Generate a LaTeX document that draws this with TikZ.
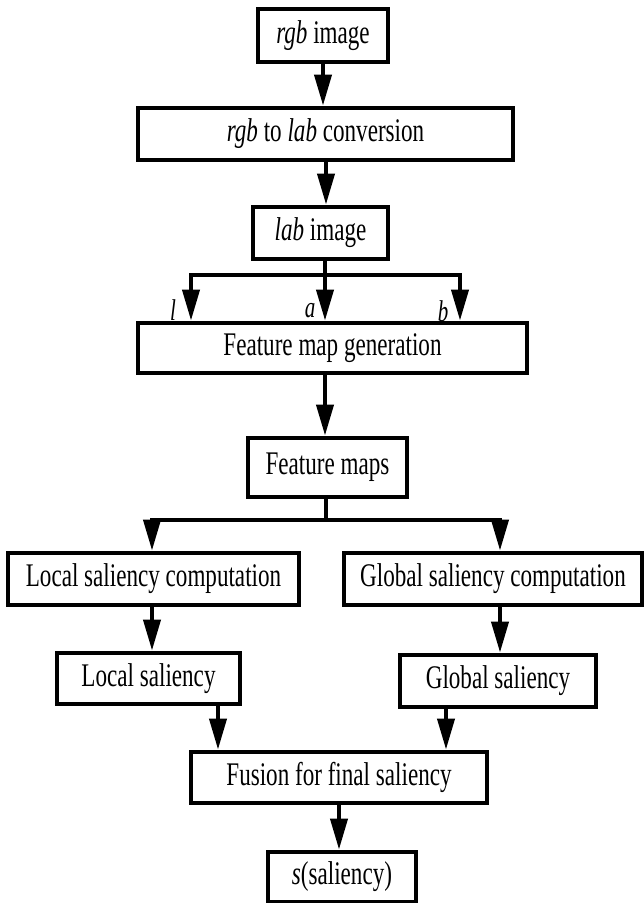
\documentclass[tikz,border=0pt]{standalone}
\usepackage{fontspec}
\setmainfont{Liberation Serif}[FakeStretch=0.70]
\usetikzlibrary{arrows.meta}
\begin{document}
\begin{tikzpicture}[x=1pt,y=-1pt,
  box/.style={draw, line width=4.8pt, inner sep=0pt, align=center,
    font=\fontsize{33}{40}\selectfont},
  ln/.style={line width=4pt, line cap=rect},
  arr/.style={line width=4pt, -{Triangle[width=17pt,length=31pt]}},
  lbl/.style={font=\fontsize{30}{36}\selectfont\itshape, inner sep=0pt}]
\useasboundingbox (0,0) rectangle (644,903);

% boxes
\node[box, minimum width=130pt, minimum height=53pt] (n1) at (323,35.5) {\textit{rgb} image};
\node[box, minimum width=375pt, minimum height=52pt] (n2) at (325.5,134) {\textit{rgb} to \textit{lab} conversion};
\node[box, minimum width=135pt, minimum height=52pt] (n3) at (320.5,233) {\textit{lab} image};
\node[box, minimum width=389pt, minimum height=50pt] (n4) at (332.5,348) {Feature map generation};
\node[box, minimum width=159pt, minimum height=59pt] (n5) at (327.5,467.5) {Feature maps};
\node[box, minimum width=291pt, minimum height=52pt] (n6) at (153.5,579) {Local saliency computation};
\node[box, minimum width=298pt, minimum height=52pt] (n7) at (493,579) {Global saliency computation};
\node[box, minimum width=183pt, minimum height=51pt] (n8) at (148.5,678.5) {Local saliency};
\node[box, minimum width=196pt, minimum height=52pt] (n9) at (498,681) {Global saliency};
\node[box, minimum width=296pt, minimum height=51pt] (n10) at (339,777.5) {Fusion for final saliency};
\node[box, minimum width=148pt, minimum height=50pt] (n11) at (342,877) {\textit{s}(saliency)};

% straight links
\coordinate (x12) at (323,0);
\coordinate (x23) at (326,0);
\coordinate (x45) at (325,0);
\coordinate (x68) at (152,0);
\coordinate (x79) at (500,0);
\coordinate (x810) at (218,0);
\coordinate (x910) at (446,0);
\coordinate (x1011) at (339,0);
\draw[arr] (x12 |- n1.south) -- (x12 |- n2.north);
\draw[arr] (x23 |- n2.south) -- (x23 |- n3.north);
\draw[arr] (x45 |- n4.south) -- (x45 |- n5.north);
\draw[arr] (x68 |- n6.south) -- (x68 |- n8.north);
\draw[arr] (x79 |- n7.south) -- (x79 |- n9.north);
\draw[arr] (x810 |- n8.south) -- (x810 |- n10.north);
\draw[arr] (x910 |- n9.south) -- (x910 |- n10.north);
\draw[arr] (x1011 |- n10.south) -- (x1011 |- n11.north);

% l, a, b channels
\coordinate (ja) at (325,275);
\coordinate (jl) at (191,275);
\coordinate (jb) at (460,275);
\draw[ln] (ja |- n3.south) -- (ja);
\draw[ln] (jl) -- (jb);
\draw[arr] (jl) -- (jl |- n4.north);
\draw[arr] (ja) -- (ja |- n4.north);
\draw[arr] (jb) -- (jb |- n4.north);
\node[lbl] (ll) at (173,310) {l};
\node[lbl] (la) at (310,311) {a};
\node[lbl] (lb) at (443,311) {b};

% local / global split
\coordinate (jm) at (326,520);
\coordinate (jL) at (152,520);
\coordinate (jG) at (500,520);
\draw[ln] (jm |- n5.south) -- (jm);
\draw[ln] (jL) -- (jG);
\draw[arr] (jL) -- (jL |- n6.north);
\draw[arr] (jG) -- (jG |- n7.north);
\end{tikzpicture}
\end{document}
